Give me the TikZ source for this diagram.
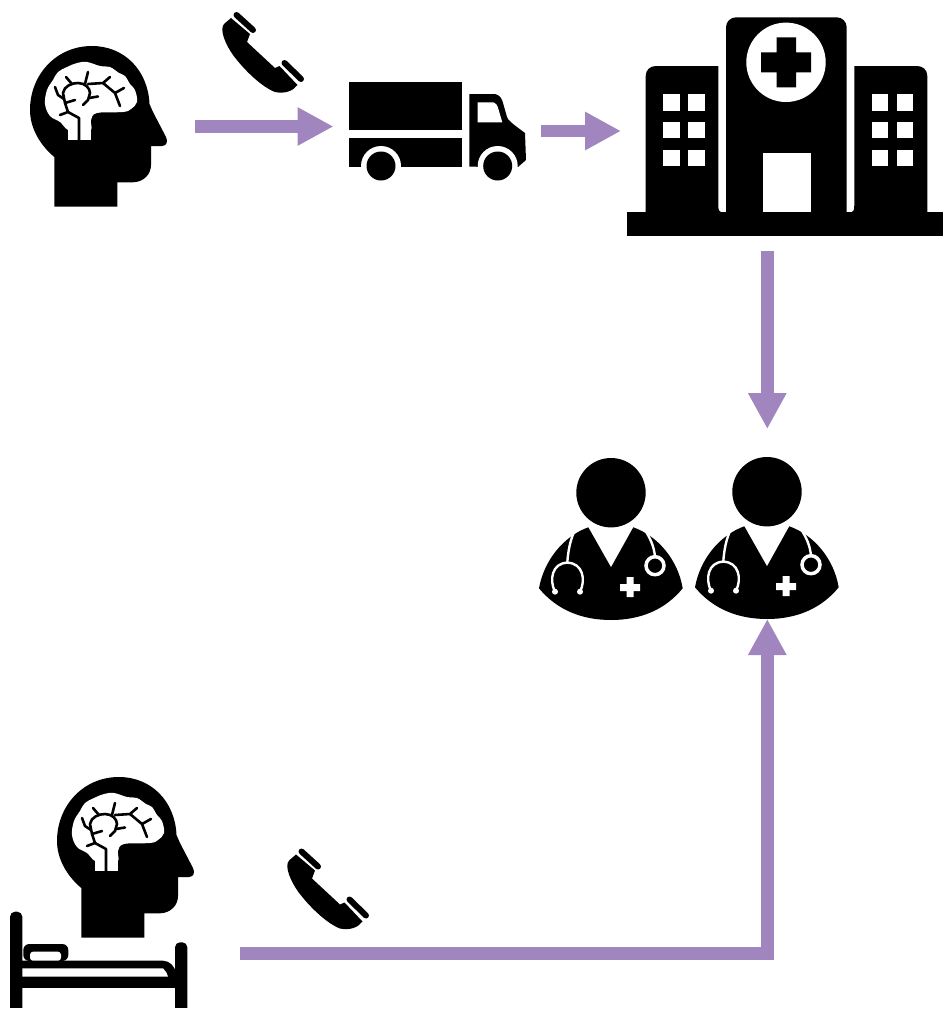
\documentclass[tikz,border=0pt]{standalone}
\usetikzlibrary{arrows.meta}
\definecolor{flowpurple}{HTML}{A185BF}
\tikzset{
  flow/.style={draw=flowpurple,line width=12.5pt,line join=miter,-{Triangle[length=36pt,width=36pt,fill=flowpurple]}},
  ink/.style={fill=black,draw=none},
  blank/.style={fill=white,draw=none},
  vein/.style={draw=black,line width=2.6pt,line cap=round,line join=round},
  scopeline/.style={draw=white,line width=2.4pt}
}
\newcommand{\iconHead}{%
    \fill[ink] (54.3,206.7) -- (117.3,206.7) -- (117.3,182.3) -- (133,182.3)
      .. controls (144,182) and (151,174) .. (151,165) -- (151,146) -- (162,146)
      .. controls (167,146) and (168,141) .. (166,137) -- (153,112) -- (149.5,104)
      .. controls (148,70) and (124,46) .. (92,46)
      .. controls (56,46) and (30,75) .. (30,110)
      .. controls (30,128) and (40,145) .. (54.3,157) -- cycle;
    \fill[blank] plot[smooth cycle,tension=0.6] coordinates {(68,130) (60,122) (50,116) (45,104) (47,90) (53,80) (58,72) (67,67) (77,63) (87,62) (100,66) (110,67) (119,73) (125,76) (130,84) (135,90) (137,102) (131,109) (123,112) (97,113) (91,120) (91,130) (80,132)};
    \fill[blank] (68,126) rectangle (91,140);
    \draw[vein] (79,140) -- (79,118) -- (68,112) -- (60,115);
    \draw[vein] (68,112) -- (65,103) -- (75,100);
    \draw[vein] (65,103) -- (63,93) .. controls (64,86) and (72,83) .. (78,83) .. controls (85,83) and (90,88) .. (90,93) -- (88,100) -- (83,105);
    \draw[vein] (89,98) -- (98,96.5);
    \draw[vein] (85,84) -- (88,72);
    \draw[vein] (72,84) -- (66,77);
    \draw[vein] (88,84) -- (103,83) -- (110,77);
    \draw[vein] (103,83) -- (115,93) -- (120,106);
    \draw[vein] (115,93) -- (124,88);
    \draw[vein] (64,99) -- (58,95) -- (55,87);
}
\newcommand{\iconPhone}{%
    \fill[ink] (231,18) -- (250,34) -- (247,42) -- (275,68) -- (279.5,66) -- (297.5,85)
      .. controls (293,91) and (285,94) .. (275,92)
      .. controls (262,87) and (245,71) .. (233,55)
      .. controls (226,45) and (219,30) .. (224,24) -- cycle;
    \draw[black,line width=6pt,line cap=round] (236.5,15) -- (253,30);
    \draw[black,line width=6pt,line cap=round] (284.5,63) -- (301,79);
}
\newcommand{\iconDoctor}{%
    \fill[ink] (611,492.7) circle[radius=34.7pt];
    \fill[ink] (539,588.3) .. controls (544,560) and (564,536) .. (588.3,527.3)
      -- (611,567.3) -- (633.3,527.3)
      .. controls (658,536) and (678,560) .. (682.7,588.3)
      .. controls (665,610) and (640,620) .. (611,620)
      .. controls (582,620) and (557,610) .. (539,588.3) -- cycle;
    \draw[scopeline] (575,530) .. controls (570,540) and (568,552) .. (567.3,562.7);
    \draw[scopeline] (555,591.7) .. controls (549,580) and (552,563) .. (567.3,562.7)
      .. controls (583,563) and (586,580) .. (580,591.7);
    \fill[white] (555,591.7) circle[radius=3pt] (580,591.7) circle[radius=3pt];
    \draw[scopeline] (645,530) .. controls (650,538) and (654,546) .. (655,556.7);
    \draw[white,line width=3.5pt] (655,565.7) circle[radius=9pt];
    \fill[white] (620,584) rectangle (640,591) (626.5,577) rectangle (633.5,597);
}
\begin{document}
\begin{tikzpicture}[x=1pt,y=-1pt]
\useasboundingbox (0,0) rectangle (943,1010);
% connector ends
\coordinate (callStart) at (194.5,126.5);
\coordinate (truckIn) at (333.5,126.5);
\coordinate (truckOut) at (541,131);
\coordinate (hospitalIn) at (621,131);
\coordinate (hospitalOut) at (767.3,251);
\coordinate (doctorsTop) at (767.3,429);
\coordinate (bedOut) at (240,953.7);
\coordinate (turn) at (767.3,953.7);
\coordinate (doctorsBottom) at (767.3,619);
% patient at top
\iconHead
\iconPhone
% truck
\fill[ink] (349,82.3) rectangle (461.7,130);
\fill[ink] (349,138.3) rectangle (461.7,166.7);
\fill[ink] (469.3,94) -- (495,94) .. controls (500,95) and (502,99) .. (503,103)
  -- (507,117) .. controls (508,120) and (510,122) .. (525,133) -- (526,160) -- (518,167) -- (469.3,166.7) -- cycle;
\fill[blank] (477.7,102.3) -- (493.3,102.3) .. controls (496,103) and (497,105) .. (497.7,106.7) -- (502.3,122.3) -- (477.7,122.3) -- cycle;
\fill[blank] (381,166) circle[radius=20pt] (497.7,166) circle[radius=20pt];
\fill[blank] (355,167) rectangle (520,190);
\fill[ink] (381,166) circle[radius=14.5pt] (497.7,166) circle[radius=14.5pt];
% hospital
\fill[ink] (626.7,212.3) rectangle (943,235.7);
\fill[ink,rounded corners=10pt] (726,225) -- (726,17.3) -- (846.7,17.3) -- (846.7,225) -- cycle;
\fill[ink] (645.7,225) -- (645.7,76) .. controls (645.7,70) and (650,66) .. (656,66) -- (718.3,66) -- (718.3,205) .. controls (718.3,210) and (719,212) .. (722,213) -- (722,225) -- cycle;
\fill[ink] (927.3,225) -- (927.3,76) .. controls (927.3,70) and (923,66) .. (917,66) -- (854.3,66) -- (854.3,205) .. controls (854.3,210) and (853.6,212) .. (850.6,213) -- (850.6,225) -- cycle;
\fill[ink] (720,212) rectangle (853,220);
\fill[blank] (786,62.3) circle[radius=39.7pt];
\fill[ink] (761,52.3) rectangle (811,72.3) (776.7,37.3) rectangle (796,87.3);
\fill[blank] (763.3,152.7) rectangle (811,211.7);
\foreach \wx in {663.3,688.3,872,897}{
  \foreach \wy in {94.3,121.7,150}{
    \fill[blank] (\wx,\wy) rectangle ++(16.3,16.3);
  }
}
% doctors
\iconDoctor
\begin{scope}[shift={(156,-1)}]\iconDoctor\end{scope}
% patient in bed
\begin{scope}[shift={(27,731)}]\iconHead\end{scope}
\begin{scope}[shift={(65,836.5)}]\iconPhone\end{scope}
\fill[ink,rounded corners=5pt] (10,1030) -- (10,911.7) -- (22.3,911.7) -- (22.3,1030) -- cycle;
\fill[ink,rounded corners=5pt] (175,1030) -- (175,942.3) -- (187.3,942.3) -- (187.3,1030) -- cycle;
\fill[blank] (0,1008.3) rectangle (200,1030);
\fill[ink] (20,976.7) rectangle (177,988.3);
\fill[ink] (20,960.7) -- (163,960.7) .. controls (170,961) and (174,966) .. (176,972) -- (176,977) -- (20,977) -- cycle;
\fill[blank] (22.3,968.3) -- (163,968.3) .. controls (165,970) and (167,973) .. (168,976.7) -- (22.3,976.7) -- cycle;
\fill[ink,rounded corners=6pt] (23.3,961) -- (23.3,944) -- (68.3,944) -- (68.3,961) -- cycle;
\fill[blank,rounded corners=3pt] (30,960.7) -- (30,951.7) -- (61,951.7) -- (61,960.7) -- cycle;
% connectors
\draw[flow] (callStart) -- (truckIn);
\draw[flow] (truckOut) -- (hospitalIn);
\draw[flow] (hospitalOut) -- (doctorsTop);
\draw[flow] (bedOut) -- (turn) -- (doctorsBottom);
\end{tikzpicture}
\end{document}
